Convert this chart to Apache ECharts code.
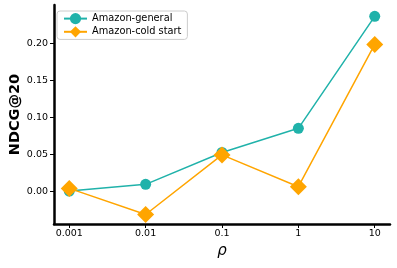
<!DOCTYPE html>
<html><head><meta charset="utf-8">
<script src="https://cdn.jsdelivr.net/npm/echarts@6/dist/echarts.min.js"></script>
<style>html,body{margin:0;padding:0;background:#fff}#c{width:397px;height:268px}</style>
</head><body><div id="c"></div>
<script>
const categories = ['0.001', '0.01', '0.1', '1', '10'];
const generalValues = [0.001, 0.010, 0.053, 0.0855, 0.2365];
const coldValues = [0.0045, -0.0307, 0.0497, 0.0068, 0.1986];
const yTicks = [0, 0.05, 0.10, 0.15, 0.20];
const seriesNames = ['Amazon-general', 'Amazon-cold start'];
const colors = ['#20B2AA', '#FFA500'];

const xIdx = categories.map((c, i) => i);
const font = 'DejaVu Sans';
const chart = echarts.init(document.getElementById('c'), null, { renderer: 'canvas' });
chart.setOption({
  animation: false,
  textStyle: { fontFamily: font },
  grid: { left: 54, right: 7, top: 5, bottom: 44, containLabel: false, outerBoundsMode: 'none' },
  legend: {
    left: 57, top: 11, orient: 'vertical',
    itemWidth: 23, itemHeight: 14, itemGap: 2,
    padding: [2, 6, 2, 6],
    borderColor: '#cccccc', borderWidth: 1, borderRadius: 3,
    backgroundColor: 'rgba(255,255,255,0.8)',
    textStyle: { fontFamily: font, fontSize: 9.8, color: '#000' },
    data: seriesNames
  },
  xAxis: {
    type: 'value', min: -0.2, max: 4.2,
    name: 'ρ', nameLocation: 'middle', nameGap: 20, nameMoveOverlap: false,
    nameTextStyle: { fontFamily: font, fontSize: 15, fontStyle: 'italic', color: '#000' },
    axisLine: { onZero: false, lineStyle: { color: '#000', width: 2.5 } },
    axisTick: { show: true, length: 4, lineStyle: { color: '#000', width: 1 }, customValues: xIdx },
    axisLabel: { customValues: xIdx, margin: 5, fontSize: 9.5, color: '#000', fontFamily: font,
      formatter: v => categories[Math.round(v)] },
    splitLine: { show: false }
  },
  yAxis: {
    type: 'value', min: -0.0435, max: 0.2518,
    name: 'NDCG@20', nameLocation: 'middle', nameRotate: 90, nameGap: 31, nameMoveOverlap: false,
    nameTextStyle: { fontFamily: font, fontSize: 14.5, fontWeight: 'bold', color: '#000' },
    axisLine: { show: true, onZero: false, lineStyle: { color: '#000', width: 2.5 } },
    axisTick: { show: true, length: 4, lineStyle: { color: '#000', width: 1 }, customValues: yTicks },
    axisLabel: { customValues: yTicks, margin: 6, fontSize: 9.5, color: '#000', fontFamily: font,
      formatter: v => v.toFixed(2) },
    splitLine: { show: false }
  },
  series: [
    {
      name: seriesNames[0], type: 'line',
      data: xIdx.map(i => [i, generalValues[i]]),
      symbol: 'circle', symbolSize: 11,
      lineStyle: { color: colors[0], width: 1.5 },
      itemStyle: { color: colors[0] }
    },
    {
      name: seriesNames[1], type: 'line',
      data: xIdx.map(i => [i, coldValues[i]]),
      symbol: 'diamond', symbolSize: 17,
      lineStyle: { color: colors[1], width: 1.5 },
      itemStyle: { color: colors[1] }
    }
  ]
});
</script></body></html>
